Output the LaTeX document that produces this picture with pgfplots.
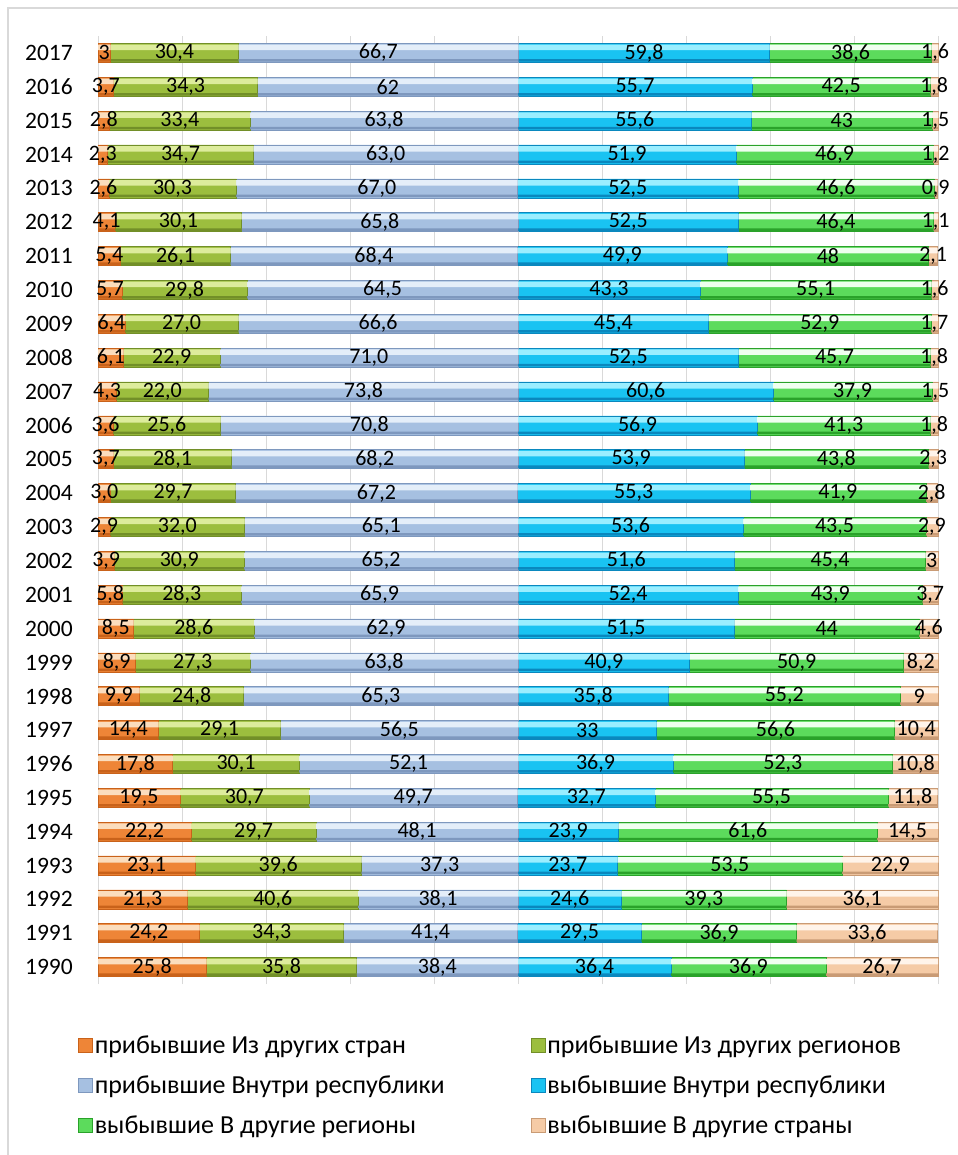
\documentclass[border=0pt]{standalone}
\usepackage{fontspec}
\setmainfont{Carlito}
\usepackage{pgfplots}
\usepackage{pgfplotstable}
\pgfplotsset{compat=1.18}

\definecolor{aL}{HTML}{FBDDBD}\definecolor{aM}{HTML}{EE8537}\definecolor{aD}{HTML}{C9621A}
\definecolor{bL}{HTML}{DDEC9C}\definecolor{bM}{HTML}{9CBE3E}\definecolor{bD}{HTML}{728F28}
\definecolor{cL}{HTML}{E4EEF9}\definecolor{cM}{HTML}{A6C0E1}\definecolor{cD}{HTML}{7E98BE}
\definecolor{dL}{HTML}{9AEEFF}\definecolor{dM}{HTML}{19C3F2}\definecolor{dD}{HTML}{0A88BE}
\definecolor{eL}{HTML}{EFFFEF}\definecolor{eM}{HTML}{5CDB5C}\definecolor{eD}{HTML}{2AA22A}
\definecolor{fL}{HTML}{FFF4EA}\definecolor{fM}{HTML}{F5CBA6}\definecolor{fD}{HTML}{C99B75}

% left half: arrivals, right half: departures
\pgfplotstableread{
year a b c d e f la lb lc ld le lf
1990 25.8 35.8 38.4 36.4 36.9 26.7 25,8 35,8 38,4 36,4 36,9 26,7
1991 24.2 34.3 41.4 29.5 36.9 33.6 24,2 34,3 41,4 29,5 36,9 33,6
1992 21.3 40.6 38.1 24.6 39.3 36.1 21,3 40,6 38,1 24,6 39,3 36,1
1993 23.1 39.6 37.3 23.7 53.5 22.9 23,1 39,6 37,3 23,7 53,5 22,9
1994 22.2 29.7 48.1 23.9 61.6 14.5 22,2 29,7 48,1 23,9 61,6 14,5
1995 19.5 30.7 49.7 32.7 55.5 11.8 19,5 30,7 49,7 32,7 55,5 11,8
1996 17.8 30.1 52.1 36.9 52.3 10.8 17,8 30,1 52,1 36,9 52,3 10,8
1997 14.4 29.1 56.5 33.0 56.6 10.4 14,4 29,1 56,5 33 56,6 10,4
1998 9.9 24.8 65.3 35.8 55.2 9.0 9,9 24,8 65,3 35,8 55,2 9
1999 8.9 27.3 63.8 40.9 50.9 8.2 8,9 27,3 63,8 40,9 50,9 8,2
2000 8.5 28.6 62.9 51.5 44.0 4.6 8,5 28,6 62,9 51,5 44 4,6
2001 5.8 28.3 65.9 52.4 43.9 3.7 5,8 28,3 65,9 52,4 43,9 3,7
2002 3.9 30.9 65.2 51.6 45.4 3.0 3,9 30,9 65,2 51,6 45,4 3
2003 2.9 32.0 65.1 53.6 43.5 2.9 2,9 32,0 65,1 53,6 43,5 2,9
2004 3.0 29.7 67.2 55.3 41.9 2.8 3,0 29,7 67,2 55,3 41,9 2,8
2005 3.7 28.1 68.2 53.9 43.8 2.3 3,7 28,1 68,2 53,9 43,8 2,3
2006 3.6 25.6 70.8 56.9 41.3 1.8 3,6 25,6 70,8 56,9 41,3 1,8
2007 4.3 22.0 73.8 60.6 37.9 1.5 4,3 22,0 73,8 60,6 37,9 1,5
2008 6.1 22.9 71.0 52.5 45.7 1.8 6,1 22,9 71,0 52,5 45,7 1,8
2009 6.4 27.0 66.6 45.4 52.9 1.7 6,4 27,0 66,6 45,4 52,9 1,7
2010 5.7 29.8 64.5 43.3 55.1 1.6 5,7 29,8 64,5 43,3 55,1 1,6
2011 5.4 26.1 68.4 49.9 48.0 2.1 5,4 26,1 68,4 49,9 48 2,1
2012 4.1 30.1 65.8 52.5 46.4 1.1 4,1 30,1 65,8 52,5 46,4 1,1
2013 2.6 30.3 67.0 52.5 46.6 0.9 2,6 30,3 67,0 52,5 46,6 0,9
2014 2.3 34.7 63.0 51.9 46.9 1.2 2,3 34,7 63,0 51,9 46,9 1,2
2015 2.8 33.4 63.8 55.6 43.0 1.5 2,8 33,4 63,8 55,6 43 1,5
2016 3.7 34.3 62.0 55.7 42.5 1.8 3,7 34,3 62 55,7 42,5 1,8
2017 3.0 30.4 66.7 59.8 38.6 1.6 3 30,4 66,7 59,8 38,6 1,6
}\mig

% 4.2bp per unit; a little room past 200 for rows that sum to 200.1
\pgfplotsset{
  frame/.style={at={(98bp,171bp)}, anchor=south west,
    scale only axis, width=841.26bp, height=948bp,
    xbar stacked, xmin=0, xmax=200.3, ymin=1989.5, ymax=2017.5},
  over/.style={frame, hide axis, draw=none},
}

\begin{document}
\begin{tikzpicture}
\useasboundingbox (0,0) rectangle (958bp,1155bp);
\fill[white] (0,0) rectangle (958bp,1155bp);
\draw[black!15, line width=1.2bp] (8bp,-20bp) rectangle (990bp,1147bp);
% main bars
\begin{axis}[
  frame, bar width=19bp,
  xtick={0,20,...,200}, xticklabels={},
  ytick={1990,...,2017},
  /pgf/number format/1000 sep={},
  /pgf/number format/assume math mode=true,
  yticklabel style={anchor=east, inner sep=0pt, xshift=-25bp,
    font=\fontsize{23.5bp}{27bp}\selectfont},
  xmajorgrids, major grid style={draw=black!15, line width=1bp},
  axis line style={draw=none}, major tick length=0pt,
  legend columns=2,
  legend cell align=left,
  legend style={draw=none, fill=none, inner sep=0pt,
    at={(-0.0238,-0.0518)}, anchor=north west,
    font=\fontsize{26bp}{30bp}\selectfont, row sep=17bp,
    /tikz/every even column/.append style={column sep=0pt}},
  legend image code/.code={\draw[#1] (0bp,-7bp) rectangle (14bp,7bp);},
]
\addplot[fill=aM, draw=aD, line width=0.6bp] table[x=a, y=year] {\mig};
\addplot[fill=bM, draw=bD, line width=0.6bp] table[x=b, y=year] {\mig};
\addplot[fill=cM, draw=cD, line width=0.6bp] table[x=c, y=year] {\mig};
\addplot[fill=dM, draw=dD, line width=0.6bp] table[x=d, y=year] {\mig};
\addplot[fill=eM, draw=eD, line width=0.6bp] table[x=e, y=year] {\mig};
\addplot[fill=fM, draw=fD, line width=0.6bp] table[x=f, y=year] {\mig};
\legend{\makebox[434bp][l]{прибывшие Из других стран}, прибывшие Из других регионов,
  \makebox[434bp][l]{прибывшие Внутри республики}, выбывшие Внутри республики,
  \makebox[434bp][l]{выбывшие В другие регионы}, выбывшие В другие страны}
\end{axis}
% light upper strip of each bar
\begin{axis}[over, bar width=5.5bp, bar shift=5.5bp]
\addplot[fill=aL, draw=none] table[x=a, y=year] {\mig};
\addplot[fill=bL, draw=none] table[x=b, y=year] {\mig};
\addplot[fill=cL, draw=none] table[x=c, y=year] {\mig};
\addplot[fill=dL, draw=none] table[x=d, y=year] {\mig};
\addplot[fill=eL, draw=none] table[x=e, y=year] {\mig};
\addplot[fill=fL, draw=none] table[x=f, y=year] {\mig};
\end{axis}
% darker lower strip of each bar
\begin{axis}[over, bar width=2.5bp, bar shift=-7.5bp]
\addplot[fill=aD, draw=none] table[x=a, y=year] {\mig};
\addplot[fill=bD, draw=none] table[x=b, y=year] {\mig};
\addplot[fill=cD, draw=none] table[x=c, y=year] {\mig};
\addplot[fill=dD, draw=none] table[x=d, y=year] {\mig};
\addplot[fill=eD, draw=none] table[x=e, y=year] {\mig};
\addplot[fill=fD, draw=none] table[x=f, y=year] {\mig};
\end{axis}
% value labels, centred in each segment
\begin{axis}[over, bar width=19bp, clip=false,
  point meta=explicit symbolic, nodes near coords,
  every node near coord/.append style={anchor=center, inner sep=0pt,
    font=\fontsize{22bp}{26bp}\selectfont, text=black}]
\addplot[fill=none, draw=none] table[x=a, y=year, meta=la] {\mig};
\addplot[fill=none, draw=none] table[x=b, y=year, meta=lb] {\mig};
\addplot[fill=none, draw=none] table[x=c, y=year, meta=lc] {\mig};
\addplot[fill=none, draw=none] table[x=d, y=year, meta=ld] {\mig};
\addplot[fill=none, draw=none] table[x=e, y=year, meta=le] {\mig};
\addplot[fill=none, draw=none] table[x=f, y=year, meta=lf] {\mig};
\end{axis}
\end{tikzpicture}
\end{document}
